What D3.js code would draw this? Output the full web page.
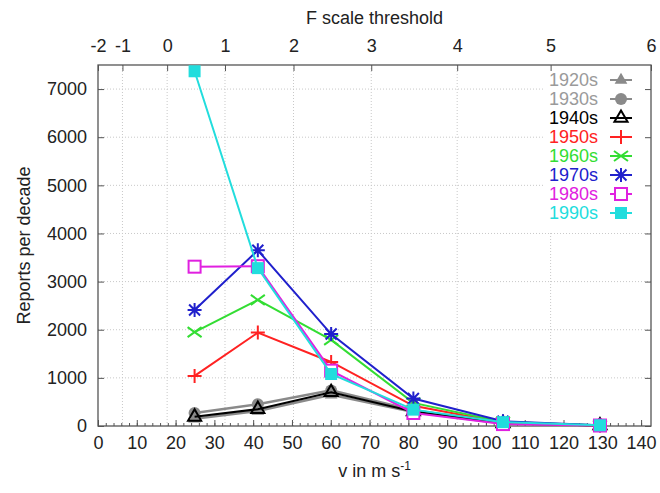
<!DOCTYPE html>
<html>
<head>
<meta charset="utf-8">
<script src="https://cdn.jsdelivr.net/npm/d3@7"></script>
<style>
  body { margin: 0; background: #fff; }
  svg text { font-family: "Liberation Sans", Arial, Helvetica, sans-serif; }
</style>
</head>
<body>
<div id="chart"></div>
<script>
// wind speed (m/s) at the middle of each F class, F0.5 ... F5.5
const speeds = [24.9, 41.2, 60.1, 81.3, 104.4, 129.4];

const decades = ['1920s', '1930s', '1940s', '1950s', '1960s', '1970s', '1980s', '1990s'];
const reports1920s = [150, 310, 650, 290, 50, 8];
const reports1930s = [270, 450, 740, 330, 60, 10];
const reports1940s = [190, 350, 700, 300, 55, 10];
const reports1950s = [1040, 1940, 1330, 420, 70, 12];
const reports1960s = [1950, 2620, 1790, 480, 85, 12];
const reports1970s = [2410, 3650, 1910, 570, 100, 15];
const reports1980s = [3310, 3320, 1150, 270, 40, 10];
const reports1990s = [7370, 3280, 1080, 340, 80, 15];

const xTicks = [0, 10, 20, 30, 40, 50, 60, 70, 80, 90, 100, 110, 120, 130, 140];
const yTicks = [0, 1000, 2000, 3000, 4000, 5000, 6000, 7000];
const fTicks = [-2, -1, 0, 1, 2, 3, 4, 5, 6];

// Fujita: v = 6.30 (F + 2)^1.5
const fToV = f => 6.30 * Math.pow(f + 2, 1.5);

const series = [
  { name: decades[0], values: reports1920s, color: '#8a8a8a', text: '#9a9a9a', marker: 'triFill' },
  { name: decades[1], values: reports1930s, color: '#8a8a8a', text: '#9a9a9a', marker: 'circle' },
  { name: decades[2], values: reports1940s, color: '#000000', text: '#000000', marker: 'triOpen' },
  { name: decades[3], values: reports1950s, color: '#ff2222', text: '#ff2222', marker: 'plus' },
  { name: decades[4], values: reports1960s, color: '#33dd33', text: '#33dd33', marker: 'cross' },
  { name: decades[5], values: reports1970s, color: '#2020cc', text: '#2020cc', marker: 'star' },
  { name: decades[6], values: reports1980s, color: '#e020e0', text: '#e020e0', marker: 'sqOpen' },
  { name: decades[7], values: reports1990s, color: '#22dddd', text: '#22dddd', marker: 'sqFill' }
];

const width = 660;
const height = 493;
const plotLeft = 98, plotRight = 651, plotTop = 65, plotBottom = 426;
const frameColor = '#555';
const fontSize = '18px';

const svg = d3.select('#chart')
  .append('svg')
    .attr('width', width)
    .attr('height', height)
    .attr('viewBox', [0, 0, width, height]);

const x = d3.scaleLinear()
  .domain([0, fToV(6)])
  .range([plotLeft, plotRight]);

const y = d3.scaleLinear()
  .domain([0, 7500])
  .range([plotBottom, plotTop]);

// grid: horizontal at y ticks, vertical at F ticks
const grid = svg.append('g')
  .attr('stroke', '#c8c8c8')
  .attr('stroke-width', 1)
  .attr('stroke-dasharray', '1,2');

grid.selectAll('line.h')
  .data(yTicks.slice(1))
  .join('line')
    .attr('class', 'h')
    .attr('x1', plotLeft).attr('x2', plotRight)
    .attr('y1', d => y(d)).attr('y2', d => y(d));

grid.selectAll('line.v')
  .data(fTicks.slice(1, -1))
  .join('line')
    .attr('class', 'v')
    .attr('x1', d => x(fToV(d))).attr('x2', d => x(fToV(d)))
    .attr('y1', plotTop).attr('y2', plotBottom);

// legend background hides the grid behind it
svg.append('rect')
  .attr('x', 543)
  .attr('y', plotTop)
  .attr('width', plotRight - 543)
  .attr('height', 168)
  .attr('fill', '#fff');

function styleAxis(g) {
  g.select('.domain').remove();
  g.selectAll('.tick line').attr('stroke', frameColor);
  g.selectAll('.tick text')
    .attr('fill', '#222')
    .style('font-size', fontSize);
}

// bottom axis, minor then major
svg.append('g')
  .attr('transform', `translate(0,${plotBottom})`)
  .call(d3.axisBottom(x).tickValues(d3.range(0, 142, 2)).tickSize(-3).tickFormat(''))
  .call(styleAxis);

svg.append('g')
  .attr('transform', `translate(0,${plotBottom})`)
  .call(d3.axisBottom(x).tickValues(xTicks).tickSize(-6).tickPadding(10))
  .call(styleAxis);

// top axis in F scale
svg.append('g')
  .attr('transform', `translate(0,${plotTop})`)
  .call(d3.axisTop(x)
    .tickValues(fTicks.map(fToV))
    .tickFormat((d, i) => String(fTicks[i]))
    .tickSize(-6)
    .tickPadding(13))
  .call(styleAxis);

// left and right y axes
svg.append('g')
  .attr('transform', `translate(${plotLeft},0)`)
  .call(d3.axisLeft(y).tickValues(yTicks).tickFormat(d3.format('d')).tickSize(-6).tickPadding(11))
  .call(styleAxis);

svg.append('g')
  .attr('transform', `translate(${plotRight},0)`)
  .call(d3.axisRight(y).tickValues(yTicks).tickSize(-6).tickFormat(''))
  .call(styleAxis);

// frame
svg.append('rect')
  .attr('x', plotLeft)
  .attr('y', plotTop)
  .attr('width', plotRight - plotLeft)
  .attr('height', plotBottom - plotTop)
  .attr('fill', 'none')
  .attr('stroke', frameColor)
  .attr('stroke-width', 1.3);

// axis titles
svg.append('text')
  .attr('x', (plotLeft + plotRight) / 2)
  .attr('y', 24)
  .attr('text-anchor', 'middle')
  .attr('fill', '#222')
  .style('font-size', fontSize)
  .text('F scale threshold');

const xLabel = svg.append('text')
  .attr('x', (plotLeft + plotRight) / 2)
  .attr('y', 477)
  .attr('text-anchor', 'middle')
  .attr('fill', '#222')
  .style('font-size', fontSize);
xLabel.append('tspan').text('v in m s');
xLabel.append('tspan')
  .attr('dy', -7)
  .style('font-size', '12px')
  .text('-1');

svg.append('text')
  .attr('transform', `translate(30,${(plotTop + plotBottom) / 2}) rotate(-90)`)
  .attr('text-anchor', 'middle')
  .attr('fill', '#222')
  .style('font-size', fontSize)
  .text('Reports per decade');

// markers
function drawMarker(g, type, color) {
  if (type === 'triFill') {
    g.append('path').attr('d', d3.symbol(d3.symbolTriangle, 70)()).attr('fill', color);
  } else if (type === 'circle') {
    g.append('circle').attr('r', 6).attr('fill', color);
  } else if (type === 'triOpen') {
    g.append('path').attr('d', d3.symbol(d3.symbolTriangle, 75)())
      .attr('fill', 'none').attr('stroke', color).attr('stroke-width', 2);
  } else if (type === 'plus') {
    g.append('path').attr('d', 'M-7,0H7M0,-7V7')
      .attr('stroke', color).attr('stroke-width', 2);
  } else if (type === 'cross') {
    g.append('path').attr('d', 'M-7,-5L7,5M-7,5L7,-5')
      .attr('stroke', color).attr('stroke-width', 2);
  } else if (type === 'star') {
    g.append('path').attr('d', 'M-7,0H7M0,-7V7M-5.5,-5.5L5.5,5.5M-5.5,5.5L5.5,-5.5')
      .attr('stroke', color).attr('stroke-width', 2);
  } else if (type === 'sqOpen') {
    g.append('rect').attr('x', -6).attr('y', -6).attr('width', 12).attr('height', 12)
      .attr('fill', '#fff').attr('stroke', color).attr('stroke-width', 2);
  } else if (type === 'sqFill') {
    g.append('rect').attr('x', -6).attr('y', -6).attr('width', 12).attr('height', 12)
      .attr('fill', color);
  }
}

const line = d3.line()
  .x((d, i) => x(speeds[i]))
  .y(d => y(d));

series.forEach(s => {
  const g = svg.append('g');
  g.append('path')
    .attr('d', line(s.values))
    .attr('fill', 'none')
    .attr('stroke', s.color)
    .attr('stroke-width', s.color === '#8a8a8a' ? 2.5 : 2);
  s.values.forEach((v, i) => {
    const m = g.append('g').attr('transform', `translate(${x(speeds[i])},${y(v)})`);
    drawMarker(m, s.marker, s.color);
  });
});

// legend
const legend = svg.append('g');
series.forEach((s, i) => {
  const ly = 80 + i * 19;
  legend.append('text')
    .attr('x', 598)
    .attr('y', ly)
    .attr('dy', '0.35em')
    .attr('text-anchor', 'end')
    .attr('fill', s.text)
    .style('font-size', fontSize)
    .text(s.name);
  legend.append('line')
    .attr('x1', 610).attr('x2', 632)
    .attr('y1', ly).attr('y2', ly)
    .attr('stroke', s.color)
    .attr('stroke-width', 2);
  const m = legend.append('g').attr('transform', `translate(621,${ly})`);
  drawMarker(m, s.marker, s.color);
});
</script>
</body>
</html>
